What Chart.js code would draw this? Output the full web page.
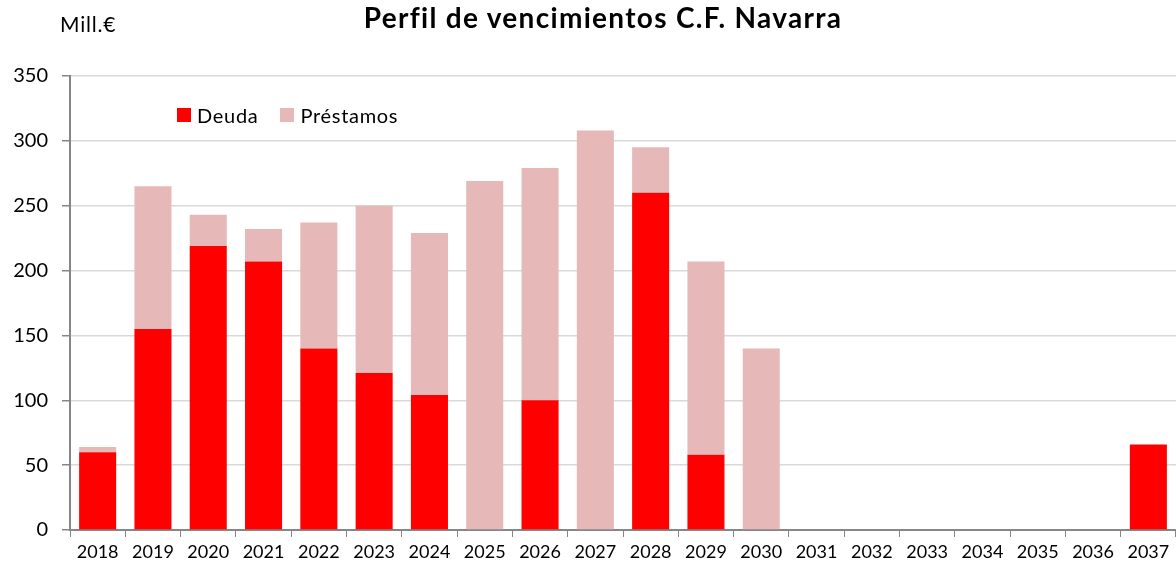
<!DOCTYPE html>
<html>
<head>
<meta charset="utf-8">
<script src="https://cdn.jsdelivr.net/npm/chart.js@4"></script>
<style>
  html, body { margin: 0; padding: 0; background: #fff; }
  #wrap { position: relative; width: 1176px; height: 567px; font-family: Lato, "Open Sans", sans-serif; }
  #title { position: absolute; left: 0; width: 1206px; top: 0px; text-align: center; font-weight: bold; font-size: 28px; letter-spacing: 1.3px; color: #000; }
  #unit { position: absolute; left: 60px; top: 11px; font-size: 21px; letter-spacing: 0.8px; color: #000; }
  #legend { position: absolute; left: 177px; top: 103px; font-size: 20px; letter-spacing: 0.7px; color: #000; display: flex; align-items: center; }
  #legend span.box { display: inline-block; width: 14px; height: 14px; margin-right: 6px; }
  #legend span.item { display: inline-flex; align-items: center; margin-right: 22px; }
</style>
</head>
<body>
<div id="wrap">
  <canvas id="chart" width="1176" height="567"></canvas>
  <div id="title">Perfil de vencimientos C.F. Navarra</div>
  <div id="unit">Mill.€</div>
  <div id="legend"></div>
</div>
<script>
const years = ["2018", "2019", "2020", "2021", "2022", "2023", "2024", "2025", "2026", "2027",
  "2028", "2029", "2030", "2031", "2032", "2033", "2034", "2035", "2036", "2037"];
const deuda = [60, 155, 219, 207, 140, 121, 104, 0, 100, 0, 260, 58, 0, 0, 0, 0, 0, 0, 0, 66];
const prestamos = [4, 110, 24, 25, 97, 129, 125, 269, 179, 308, 35, 149, 140, 0, 0, 0, 0, 0, 0, 0];
const yTicks = [0, 50, 100, 150, 200, 250, 300, 350];

const colDeuda = "#ff0000";
const colPrest = "#e6b9b8";
const axisGrey = "#868686";

const datasets = [
  { label: "Deuda", data: deuda, backgroundColor: colDeuda },
  { label: "Préstamos", data: prestamos, backgroundColor: colPrest }
];

// html legend
const legendEl = document.getElementById("legend");
datasets.forEach(ds => {
  const item = document.createElement("span");
  item.className = "item";
  item.innerHTML = '<span class="box" style="background:' + ds.backgroundColor + '"></span>' + ds.label;
  legendEl.appendChild(item);
});

new Chart(document.getElementById("chart"), {
  type: "bar",
  data: { labels: years, datasets: datasets },
  options: {
    responsive: false,
    animation: false,
    layout: { padding: { top: 76, left: 0, right: 0, bottom: 0 } },
    datasets: { bar: { barPercentage: 1, categoryPercentage: 0.67 } },
    plugins: {
      legend: { display: false },
      title: { display: false },
      tooltip: { enabled: false }
    },
    scales: {
      x: {
        stacked: true,
        grid: { display: true, drawOnChartArea: false, drawTicks: true, tickLength: 7, color: axisGrey, offset: true },
        border: { color: axisGrey, width: 2 },
        ticks: { color: "#000", font: { family: "Lato", size: 18 }, padding: 4, maxRotation: 0, autoSkip: false },
        afterFit: s => { s.height = 37; }
      },
      y: {
        stacked: true,
        min: 0,
        max: 350,
        afterBuildTicks: s => { s.ticks = yTicks.map(v => ({ value: v })); },
        grid: { color: "#d9d9d9", lineWidth: 1.5, drawTicks: true, tickLength: 8, tickColor: axisGrey },
        border: { color: axisGrey, width: 2 },
        ticks: { color: "#000", font: { family: "Lato", size: 20 }, padding: 14 },
        afterFit: s => { s.width = 70; }
      }
    }
  }
});
</script>
</body>
</html>
